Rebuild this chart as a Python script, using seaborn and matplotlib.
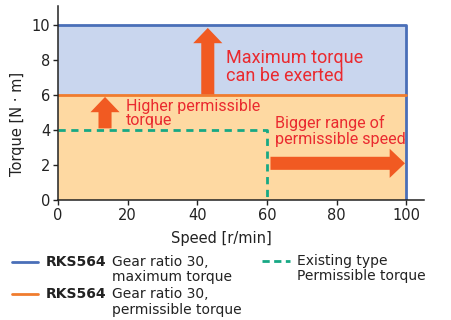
import matplotlib
matplotlib.use("Agg")
import matplotlib.pyplot as plt
import seaborn as sns
from matplotlib.patches import FancyArrowPatch
from matplotlib.lines import Line2D

# Operating envelope data
speed_range = [0, 100]          # r/min
max_torque = 10                 # N·m, RKS564 maximum torque
perm_torque = 6                 # N·m, RKS564 permissible torque
existing_speed = 60             # r/min, existing type speed limit
existing_torque = 4             # N·m, existing type permissible torque
x_ticks = [0, 20, 40, 60, 80, 100]
y_ticks = [0, 2, 4, 6, 8, 10]

BLUE = "#4a6fb8"
ORANGE = "#f07c2e"
GREEN = "#17a884"
BLUE_FILL = "#c9d6ee"
ORANGE_FILL = "#fed9a2"
ARROW = "#f15a22"
RED = "#ea2a2f"

sns.set_theme(style="ticks")
plt.rcParams["font.family"] = ["DejaVu Sans"]

fig = plt.figure(figsize=(4.51, 3.2), dpi=100)
ax = fig.add_axes([0.1286, 0.375, 0.811, 0.606])

# Shaded regions
ax.fill_between(speed_range, perm_torque, max_torque, color=BLUE_FILL, lw=0)
ax.fill_between(speed_range, 0, perm_torque, color=ORANGE_FILL, lw=0)

# Envelope lines
sns.lineplot(x=[speed_range[0], speed_range[1], speed_range[1]],
             y=[max_torque, max_torque, 0], sort=False, color=BLUE, lw=2,
             ax=ax, estimator=None)
sns.lineplot(x=speed_range, y=[perm_torque, perm_torque], color=ORANGE, lw=2,
             ax=ax, estimator=None)
sns.lineplot(x=[speed_range[0], existing_speed, existing_speed],
             y=[existing_torque, existing_torque, 0], sort=False, color=GREEN,
             lw=2, ax=ax, estimator=None, dashes=False, linestyle=(0, (2.6, 2.0)))

ax.set_xlim(0, 105)
ax.set_ylim(0, 11.1)
ax.set_xticks(x_ticks)
ax.set_yticks(y_ticks)
ax.tick_params(labelsize=10.5, length=3.5, width=1, colors="#222222", pad=2)
for s in ["top", "right"]:
    ax.spines[s].set_visible(False)
for s in ["left", "bottom"]:
    ax.spines[s].set_color("#222222")
    ax.spines[s].set_linewidth(1.1)

ax.set_xlabel("Speed [r/min]", fontsize=10.5, color="#222222")
ax.set_ylabel("Torque [N · m]", fontsize=10.5, color="#222222")
ax.xaxis.set_label_coords(0.448, -0.16)
ax.yaxis.set_label_coords(-0.09, 0.39)


def arrow(x0, y0, x1, y1):
    ax.add_patch(FancyArrowPatch(
        (x0, y0), (x1, y1), mutation_scale=1, shrinkA=0, shrinkB=0,
        arrowstyle="simple,head_length=11,head_width=21,tail_width=9.4",
        color=ARROW, lw=0, zorder=5))


arrow(43, perm_torque + 0.05, 43, 9.85)
arrow(13.5, existing_torque + 0.1, 13.5, 5.9)
arrow(61, 2.1, 99.6, 2.1)

narrow = ["Roboto", "DejaVu Sans"]
ax.text(48.2, 7.6, "Maximum torque\ncan be exerted", color=RED, fontsize=13,
        family=narrow, va="center", ha="left", linespacing=1.02)
ax.text(19.6, 4.95, "Higher permissible\ntorque", color=RED, fontsize=11.5,
        family=narrow, va="center", ha="left", linespacing=0.95)
ax.text(62.4, 3.95, "Bigger range of\npermissible speed", color=RED, fontsize=11.6,
        family=narrow, va="center", ha="left", linespacing=1.1)

# Legend
def leg_line(x0, x1, y, color, ls="-"):
    fig.add_artist(Line2D([x0 / 451, x1 / 451], [1 - y / 320, 1 - y / 320],
                          color=color, lw=2, linestyle=ls))


def ftxt(x, y, s, **kw):
    fig.text(x / 451, 1 - y / 320, s, va="center", ha="left", fontsize=10,
             color="#222222", **kw)


leg_line(12, 38, 262, BLUE)
ftxt(46, 262, "RKS564", weight="bold")
ftxt(112, 262, "Gear ratio 30,")
ftxt(112, 277, "maximum torque")
leg_line(12, 38, 294, ORANGE)
ftxt(46, 294, "RKS564", weight="bold")
ftxt(112, 294, "Gear ratio 30,")
ftxt(112, 310, "permissible torque")
leg_line(262, 290, 261, GREEN, ls=(0, (2.6, 1.6)))
ftxt(297, 261, "Existing type")
ftxt(297, 276, "Permissible torque")

fig.savefig("out.png", dpi=100)
